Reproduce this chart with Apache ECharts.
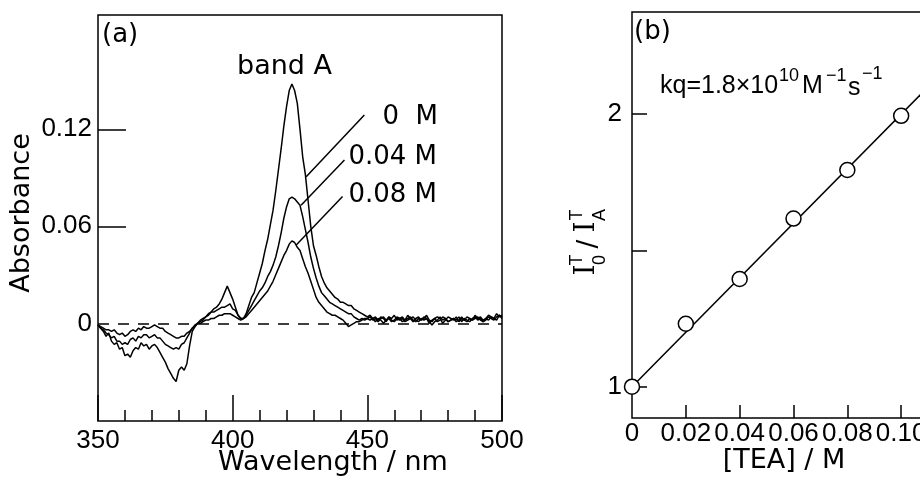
<!DOCTYPE html>
<html>
<head>
<meta charset="UTF-8">
<title>band A quenching</title>
<script src="https://cdn.jsdelivr.net/npm/echarts@6/dist/echarts.min.js"></script>
<style>
  html, body { margin: 0; padding: 0; background: #fff; }
  #chart { width: 920px; height: 479px; }
</style>
</head>
<body>
<div id="chart"></div>
<script>
// (a) spectra, one value per nm from 350 to 500
var startNm = 350;
var abs0M = [
  -0.001,-0.003,-0.005,-0.008,-0.006,-0.011,-0.013,-0.012,-0.016,-0.015,
  -0.020,-0.019,-0.021,-0.017,-0.015,-0.016,-0.012,-0.014,-0.013,-0.016,
  -0.014,-0.013,-0.015,-0.018,-0.021,-0.024,-0.028,-0.031,-0.034,-0.036,
  -0.029,-0.027,-0.029,-0.025,-0.014,-0.005,-0.002,0.000,0.002,0.003,
  0.004,0.006,0.007,0.009,0.010,0.012,0.015,0.019,0.023,0.019,
  0.015,0.010,0.005,0.003,0.003,0.006,0.011,0.016,0.019,0.025,
  0.031,0.037,0.045,0.052,0.061,0.070,0.082,0.095,0.108,0.122,
  0.134,0.144,0.148,0.144,0.136,0.120,0.103,0.092,0.076,0.060,
  0.048,0.042,0.035,0.029,0.025,0.022,0.020,0.018,0.016,0.015,
  0.013,0.013,0.012,0.011,0.011,0.009,0.008,0.007,0.006,0.005,
  0.004,0.005,0.003,0.004,0.002,0.004,0.003,0.001,0.004,0.003,
  0.005,0.002,0.003,0.004,0.002,0.005,0.003,0.001,0.003,0.004,
  0.002,0.003,0.005,0.002,0.001,0.003,0.004,0.003,0.000,0.002,
  0.004,0.003,0.002,0.004,0.001,0.003,0.002,0.004,0.003,0.002,
  0.005,0.003,0.004,0.002,0.003,0.005,0.004,0.003,0.006,0.004,
  0.005
];
var abs004M = [
  -0.001,-0.003,-0.004,-0.006,-0.007,-0.009,-0.008,-0.011,-0.011,-0.013,
  -0.012,-0.013,-0.010,-0.009,-0.011,-0.008,-0.009,-0.007,-0.007,-0.009,
  -0.008,-0.007,-0.009,-0.009,-0.011,-0.013,-0.014,-0.015,-0.016,-0.015,
  -0.016,-0.013,-0.012,-0.009,-0.006,-0.003,-0.002,0.000,0.001,0.002,
  0.004,0.005,0.007,0.007,0.008,0.009,0.010,0.010,0.011,0.012,
  0.009,0.008,0.005,0.003,0.003,0.005,0.008,0.011,0.014,0.017,
  0.020,0.022,0.025,0.029,0.032,0.036,0.041,0.048,0.056,0.065,
  0.072,0.077,0.078,0.077,0.075,0.073,0.066,0.058,0.050,0.041,
  0.034,0.028,0.023,0.019,0.017,0.015,0.013,0.012,0.011,0.010,
  0.009,0.008,0.007,0.006,0.006,0.004,0.003,0.002,0.003,0.002,
  0.003,0.004,0.002,0.003,0.001,0.003,0.004,0.002,0.003,0.001,
  0.002,0.004,0.003,0.001,0.002,0.003,0.004,0.002,0.001,0.003,
  0.002,0.004,0.003,0.000,0.002,0.003,0.001,0.002,0.004,0.003,
  0.001,0.002,0.003,0.002,0.004,0.001,0.003,0.002,0.001,0.003,
  0.004,0.002,0.003,0.001,0.002,0.004,0.003,0.002,0.004,0.005,
  0.004
];
var abs008M = [
  -0.001,-0.002,-0.003,-0.004,-0.004,-0.005,-0.004,-0.006,-0.007,-0.006,
  -0.008,-0.007,-0.005,-0.004,-0.005,-0.003,-0.004,-0.002,-0.003,-0.003,
  -0.002,-0.001,-0.002,-0.003,-0.003,-0.005,-0.006,-0.007,-0.008,-0.009,
  -0.009,-0.008,-0.008,-0.006,-0.005,-0.003,-0.001,0.000,0.000,0.001,
  0.002,0.002,0.003,0.003,0.004,0.005,0.005,0.006,0.006,0.006,
  0.005,0.004,0.003,0.002,0.003,0.004,0.006,0.008,0.010,0.012,
  0.014,0.016,0.018,0.020,0.023,0.026,0.030,0.034,0.038,0.042,
  0.045,0.049,0.051,0.050,0.047,0.045,0.040,0.035,0.031,0.026,
  0.021,0.016,0.013,0.011,0.009,0.007,0.006,0.005,0.005,0.004,
  0.003,0.002,0.000,-0.002,-0.001,0.000,0.001,0.001,0.002,0.003,
  0.003,0.002,0.003,0.001,0.003,0.002,0.000,0.002,0.004,0.002,
  0.001,0.003,0.002,0.003,0.001,0.002,0.003,0.004,0.002,0.001,
  0.003,0.002,0.003,0.001,-0.001,0.001,0.002,0.004,0.002,0.003,
  0.001,0.002,0.003,0.001,0.002,0.004,0.002,0.001,0.003,0.002,
  0.003,0.004,0.002,0.001,0.003,0.002,0.004,0.003,0.002,0.005,
  0.003
];
// leader lines from the curves to their labels (data coords)
var lead0M = [[427.3, 0.0906], [448.9, 0.1288]];
var lead004M = [[425.4, 0.0730], [441.5, 0.1010]];
var lead008M = [[423.6, 0.0484], [440.8, 0.0784]];

// (b) Stern-Volmer plot
var teaConc = [0, 0.02, 0.04, 0.06, 0.08, 0.10];
var ratioIT = [1.0, 1.231, 1.395, 1.617, 1.795, 1.994];
var fitX = [0, 0.12];
var fitY = [1.0, 2.2];

var xTicksA = [350, 400, 450, 500];
var yLabelsA = [0, 0.06, 0.12];
var xTicksB = [0.02, 0.04, 0.06, 0.08, 0.10, 0.12];
var xLabelsB = [0, 0.02, 0.04, 0.06, 0.08, 0.10, 0.12];
var yTicksB = [1, 1.5, 2];
var yLabelsB = [1, 2];

function pairs(vals) {
  var out = [];
  for (var i = 0; i < vals.length; i++) out.push([startNm + i, vals[i]]);
  return out;
}
function zip(xs, ys) {
  var out = [];
  for (var i = 0; i < xs.length; i++) out.push([xs[i], ys[i]]);
  return out;
}

var numFont = 'Liberation Sans';
var wordFont = 'DejaVu Sans';
var blk = '#000';

var myChart = echarts.init(document.getElementById('chart'), null, {renderer: 'canvas'});

var curveStyle = {color: blk, width: 1.5};
function curve(vals, extra) {
  var s = {
    type: 'line', xAxisIndex: 0, yAxisIndex: 0, data: pairs(vals),
    showSymbol: false, symbol: 'none', lineStyle: curveStyle, z: 3, silent: true
  };
  if (extra) for (var k in extra) s[k] = extra[k];
  return s;
}
function leader(pts) {
  return {
    type: 'line', xAxisIndex: 0, yAxisIndex: 0, data: pts,
    showSymbol: false, symbol: 'none', lineStyle: {color: blk, width: 1.5}, z: 4, silent: true
  };
}

var option = {
  animation: false,
  backgroundColor: '#fff',
  grid: [
    {left: 98, top: 15, width: 404, height: 406, show: true, borderColor: blk, borderWidth: 1.5,
      containLabel: false, outerBoundsMode: 'none'},
    {left: 632, top: 12, width: 323, height: 406, show: true, borderColor: blk, borderWidth: 1.5,
      containLabel: false, outerBoundsMode: 'none'}
  ],
  xAxis: [
    {
      gridIndex: 0, type: 'value', min: 350, max: 500, interval: 50, position: 'bottom',
      axisLine: {show: false, onZero: false},
      axisTick: {show: true, inside: true, length: 26, lineStyle: {color: blk, width: 1.5}},
      minorTick: {show: true, splitNumber: 5, length: 11, lineStyle: {color: blk, width: 1.5}},
      axisLabel: {margin: 7, color: blk, fontFamily: numFont, fontSize: 26, customValues: xTicksA},
      splitLine: {show: false}
    },
    {
      gridIndex: 1, type: 'value', min: 0, max: 0.12, position: 'bottom',
      axisLine: {show: false, onZero: false},
      axisTick: {show: true, inside: true, length: 13, customValues: xTicksB,
        lineStyle: {color: blk, width: 1.5}},
      axisLabel: {margin: 3, color: blk, fontFamily: numFont, fontSize: 26, customValues: xLabelsB,
        formatter: function (v) { return v === 0 ? '0' : v.toFixed(2); }},
      splitLine: {show: false}
    }
  ],
  yAxis: [
    {
      gridIndex: 0, type: 'value', min: -0.0604, max: 0.1907,
      axisLine: {show: false, onZero: false},
      axisTick: {show: true, inside: true, length: 28, customValues: [0.06, 0.12],
        lineStyle: {color: blk, width: 1.5}},
      axisLabel: {margin: 6, color: blk, fontFamily: numFont, fontSize: 26, customValues: yLabelsA,
        formatter: function (v) { return v === 0 ? '0' : v.toFixed(2); }},
      splitLine: {show: false}
    },
    {
      gridIndex: 1, type: 'value', min: 0.885, max: 2.375,
      axisLine: {show: false, onZero: false},
      axisTick: {show: true, inside: true, length: 15, customValues: yTicksB,
        lineStyle: {color: blk, width: 1.5}},
      axisLabel: {margin: 10, color: blk, fontFamily: numFont, fontSize: 26, customValues: yLabelsB},
      splitLine: {show: false}
    }
  ],
  series: [
    curve(abs0M, {
      markLine: {
        silent: true, symbol: 'none', label: {show: false},
        lineStyle: {type: [11, 9], color: blk, width: 1.5},
        data: [{yAxis: 0}]
      }
    }),
    curve(abs004M),
    curve(abs008M),
    leader(lead0M),
    leader(lead004M),
    leader(lead008M),
    {
      type: 'line', xAxisIndex: 1, yAxisIndex: 1, data: zip(fitX, fitY),
      showSymbol: false, symbol: 'none', lineStyle: {color: blk, width: 1.5}, z: 2, silent: true
    },
    {
      type: 'scatter', xAxisIndex: 1, yAxisIndex: 1, data: zip(teaConc, ratioIT),
      symbol: 'circle', symbolSize: 15,
      itemStyle: {color: '#fff', borderColor: blk, borderWidth: 1.5, opacity: 1}, z: 5, silent: true
    }
  ],
  graphic: [
    {type: 'text', x: 102, y: 35, style: {text: '(a)', fontFamily: wordFont, fontSize: 26, fill: blk, align: 'left', verticalAlign: 'middle'}},
    {type: 'text', x: 634, y: 32, style: {text: '(b)', fontFamily: wordFont, fontSize: 26, fill: blk, align: 'left', verticalAlign: 'middle'}},
    {type: 'text', x: 237, y: 67, style: {text: 'band A', fontFamily: wordFont, fontSize: 27, fill: blk, align: 'left', verticalAlign: 'middle'}},
    {type: 'text', x: 438, y: 117, style: {text: '0  M', fontFamily: wordFont, fontSize: 26, fill: blk, align: 'right', verticalAlign: 'middle'}},
    {type: 'text', x: 437, y: 157, style: {text: '0.04 M', fontFamily: wordFont, fontSize: 26, fill: blk, align: 'right', verticalAlign: 'middle'}},
    {type: 'text', x: 437, y: 195, style: {text: '0.08 M', fontFamily: wordFont, fontSize: 26, fill: blk, align: 'right', verticalAlign: 'middle'}},
    {type: 'text', x: 22, y: 213, rotation: Math.PI / 2,
      style: {text: 'Absorbance', fontFamily: wordFont, fontSize: 27, fill: blk, align: 'center', verticalAlign: 'middle'}},
    {type: 'text', x: 333, y: 463, style: {text: 'Wavelength / nm', fontFamily: wordFont, fontSize: 27, fill: blk, align: 'center', verticalAlign: 'middle'}},
    {type: 'text', x: 784, y: 461, style: {text: '[TEA] / M', fontFamily: wordFont, fontSize: 27, fill: blk, align: 'center', verticalAlign: 'middle'}},
    // kq annotation
    {type: 'text', x: 660, y: 86, style: {text: 'kq=1.8×10', fontFamily: numFont, fontSize: 25, fill: blk, align: 'left', verticalAlign: 'middle'}},
    {type: 'text', x: 779, y: 76, style: {text: '10', fontFamily: numFont, fontSize: 18, fill: blk, align: 'left', verticalAlign: 'middle'}},
    {type: 'text', x: 802, y: 86, style: {text: 'M', fontFamily: numFont, fontSize: 25, fill: blk, align: 'left', verticalAlign: 'middle'}},
    {type: 'text', x: 826, y: 76, style: {text: '−1', fontFamily: numFont, fontSize: 18, fill: blk, align: 'left', verticalAlign: 'middle'}},
    {type: 'text', x: 848, y: 88, style: {text: 's', fontFamily: numFont, fontSize: 25, fill: blk, align: 'left', verticalAlign: 'middle'}},
    {type: 'text', x: 862, y: 74, style: {text: '−1', fontFamily: numFont, fontSize: 18, fill: blk, align: 'left', verticalAlign: 'middle'}},
    // I0T / IAT, rotated
    {type: 'group', x: 590, y: 237, rotation: Math.PI / 2, children: [
      {type: 'text', x: -33, y: -3, style: {text: 'I', fontFamily: 'DejaVu Serif', fontSize: 28, fill: blk, align: 'center', verticalAlign: 'middle'}},
      {type: 'text', x: -23, y: 10, style: {text: '0', fontFamily: numFont, fontSize: 18, fill: blk, align: 'center', verticalAlign: 'middle'}},
      {type: 'text', x: -23, y: -13, style: {text: 'T', fontFamily: numFont, fontSize: 18, fill: blk, align: 'center', verticalAlign: 'middle'}},
      {type: 'text', x: -7, y: -1, style: {text: '/', fontFamily: wordFont, fontSize: 26, fill: blk, align: 'center', verticalAlign: 'middle'}},
      {type: 'text', x: 10, y: -3, style: {text: 'I', fontFamily: 'DejaVu Serif', fontSize: 28, fill: blk, align: 'center', verticalAlign: 'middle'}},
      {type: 'text', x: 22, y: 10, style: {text: 'A', fontFamily: numFont, fontSize: 18, fill: blk, align: 'center', verticalAlign: 'middle'}},
      {type: 'text', x: 22, y: -13, style: {text: 'T', fontFamily: numFont, fontSize: 18, fill: blk, align: 'center', verticalAlign: 'middle'}}
    ]}
  ]
};
myChart.setOption(option);
</script>
</body>
</html>
